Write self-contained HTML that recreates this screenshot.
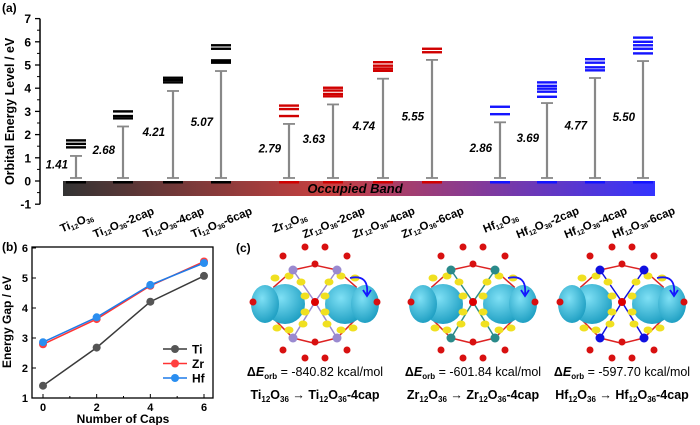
<!DOCTYPE html>
<html><head><meta charset="utf-8"><style>
body{margin:0;background:#fff;width:700px;height:425px;overflow:hidden}
svg{font-family:"Liberation Sans",sans-serif;display:block}
</style></head><body>
<svg id="s" width="700" height="425" viewBox="0 0 700 425">
<defs>
<linearGradient id="band" x1="0" x2="1" y1="0" y2="0">
<stop offset="0" stop-color="#333"/><stop offset="0.45" stop-color="#c84040"/><stop offset="1" stop-color="#3434ff"/>
</linearGradient>
<radialGradient id="cy" cx="0.4" cy="0.35" r="0.7"><stop offset="0" stop-color="#7fe0f5"/><stop offset="1" stop-color="#1a9cc0"/></radialGradient>
</defs>
<g id="pa"></g>
<g id="pb"></g>
<g id="pc"></g>
</svg>
<script>
const NS="http://www.w3.org/2000/svg";
function mk(p,t,a,txt){const e=document.createElementNS(NS,t);for(const k in a)e.setAttribute(k,a[k]);if(txt!==undefined)e.textContent=txt;p.appendChild(e);return e;}

// ---------- Panel (a) data ----------
const systems=["Ti12O36","Ti12O36-2cap","Ti12O36-4cap","Ti12O36-6cap","Zr12O36","Zr12O36-2cap","Zr12O36-4cap","Zr12O36-6cap","Hf12O36","Hf12O36-2cap","Hf12O36-4cap","Hf12O36-6cap"];
const gaps=[1.41,2.68,4.21,5.07,2.79,3.63,4.74,5.55,2.86,3.69,4.77,5.50];
const levelsTi=[[1.45,1.6,1.75],[2.7,2.8,3.0],[4.25,4.35,4.45],[5.1,5.2,5.7,5.85]];
const levelsZr=[[2.8,3.1,3.25],[3.65,3.75,3.9,4.02],[4.75,4.85,4.97,5.12],[5.55,5.7]];
const levelsHf=[[2.88,3.2],[3.63,3.85,3.98,4.1,4.25],[4.77,4.9,5.1,5.25],[5.5,5.7,5.85,6.0,6.18]];
const aTicks=[-1,0,1,2,3,4,5,6,7];
const colPos=[76,123,173,221,289,333,383,432,500,547,595,643];
const colColors=["#000","#000","#000","#000","#d00000","#d00000","#d00000","#d00000","#1414ff","#1414ff","#1414ff","#1414ff"];
const allLevels=levelsTi.concat(levelsZr,levelsHf);

const pa=document.getElementById('pa');
const ay=v=>181-v*23.2;
mk(pa,'text',{x:2,y:12,'font-size':12,'font-weight':'bold',},'(a)');
let axl=mk(pa,'line',{x1:40,x2:40,y1:ay(7),y2:ay(-1),stroke:'#000','stroke-width':1.5});

aTicks.forEach(t=>{
  mk(pa,'line',{x1:40,x2:35,y1:ay(t),y2:ay(t),stroke:'#000','stroke-width':1.3});
  if(t<7)mk(pa,'line',{x1:40,x2:37,y1:ay(t+0.5),y2:ay(t+0.5),stroke:'#000','stroke-width':1});
  const tl=mk(pa,'text',{x:31,y:ay(t)+4.5,'text-anchor':'end','font-size':12,'font-weight':'bold'},String(t));
  
});
let yt=mk(pa,'text',{transform:'translate(14,'+ay(3)+') rotate(-90)','text-anchor':'middle','font-size':12.5,'font-weight':'bold'},'Orbital Energy Level / eV');

let band=mk(pa,'rect',{x:63,y:ay(0),width:592,height:15,fill:'url(#band)'});

let bt=mk(pa,'text',{x:355,y:ay(0)+12,'text-anchor':'middle','font-size':13,'font-weight':'bold','font-style':'italic'},'Occupied Band');


systems.forEach((name,i)=>{
  const x=colPos[i],c=colColors[i],g=gaps[i];
  const base=mk(pa,'rect',{x:x-10,y:ay(0),width:20,height:2.5,fill:c});
  
  const y0=ay(0.13),y1=ay(g-0.33);
  const bar=mk(pa,'line',{x1:x,x2:x,y1:y0,y2:y1,stroke:'#888','stroke-width':2.2});
  
  mk(pa,'line',{x1:x-6,x2:x+6,y1:y0,y2:y0,stroke:'#888','stroke-width':1.8});
  mk(pa,'line',{x1:x-6,x2:x+6,y1:y1,y2:y1,stroke:'#888','stroke-width':1.8});
  allLevels[i].forEach(v=>{
    const l=mk(pa,'rect',{x:x-10,y:ay(v)-1.2,width:20,height:2.4,fill:c});
    
  });
  const gl=mk(pa,'text',{x:x-8,y:ay(g/2)+4,'text-anchor':'end','font-size':11.5,'font-weight':'bold','font-style':'italic'},g.toFixed(2));
  
  const m=name.match(/^([A-Z][a-z])12O36(.*)$/);
  const t=mk(pa,'text',{transform:'translate('+(x+2)+',226) rotate(-22)','text-anchor':'middle','font-size':11.5,'font-weight':'bold'});
  
  mk(t,'tspan',{},m[1]);mk(t,'tspan',{'font-size':7,dy:2},'12');mk(t,'tspan',{dy:-2},'O');mk(t,'tspan',{'font-size':7,dy:2},'36');mk(t,'tspan',{dy:-2},m[2]);
});

// ---------- Panel (b) data ----------
const caps=[0,2,4,6];
const gapTi=[1.41,2.68,4.21,5.07];
const gapZr=[2.79,3.63,4.74,5.55];
const gapHf=[2.86,3.69,4.77,5.50];
const bTicksY=[1,2,3,4,5,6];
const bTicksX=[0,2,4,6];
const pb=document.getElementById('pb');
const bx=v=>43+v*(204-43)/6, by=v=>398-(v-1)*30;
mk(pb,'text',{x:2,y:251,'font-size':12,'font-weight':'bold',},'(b)');
let fr=mk(pb,'rect',{x:32,y:247,width:181,height:151,fill:'none',stroke:'#000','stroke-width':1.3});

bTicksY.forEach(t=>{mk(pb,'line',{x1:32,x2:36,y1:by(t),y2:by(t),stroke:'#000'});
  const l=mk(pb,'text',{x:28,y:by(t)+4,'text-anchor':'end','font-size':11,'font-weight':'bold'},String(t));
  });
bTicksX.forEach(t=>{mk(pb,'line',{x1:bx(t),x2:bx(t),y1:398,y2:394,stroke:'#000'});
  if(t<6)mk(pb,'line',{x1:bx(t+1),x2:bx(t+1),y1:398,y2:396,stroke:'#000'});
  const l=mk(pb,'text',{x:bx(t),y:411,'text-anchor':'middle','font-size':11,'font-weight':'bold'},String(t));
  });
let xt=mk(pb,'text',{x:123,y:423,'text-anchor':'middle','font-size':12,'font-weight':'bold'},'Number of Caps');

let yt2=mk(pb,'text',{transform:'translate(11,322) rotate(-90)','text-anchor':'middle','font-size':12,'font-weight':'bold'},'Energy Gap / eV');

const series=[["Ti",gapTi,"#3a3a3a","#555"],["Zr",gapZr,"#ff3333","#ff4040"],["Hf",gapHf,"#1e7be8","#2a8ef0"]];
series.forEach(([n,vals,lc,mc],k)=>{
  const pts=caps.map((c,i)=>bx(c)+','+by(vals[i])).join(' ');
  const pl=mk(pb,'polyline',{points:pts,fill:'none',stroke:lc,'stroke-width':1.5});
  
  caps.forEach((c,i)=>{const p=mk(pb,'circle',{cx:bx(c),cy:by(vals[i]),r:4,fill:mc});
    });
  const ly=349+k*14.5;
  const le=mk(pb,'g',{});
  
  mk(le,'line',{x1:163,x2:187,y1:ly,y2:ly,stroke:lc,'stroke-width':1.5});
  mk(le,'circle',{cx:175,cy:ly,r:4,fill:mc});
  mk(le,'text',{x:192,y:ly+4.5,'font-size':12,'font-weight':'bold'},n);
});

// ---------- Panel (c) ----------
const pc=document.getElementById('pc');
mk(pc,'text',{x:236,y:252,'font-size':12,'font-weight':'bold',},'(c)');
const mols=[["Ti","#9a8ad0","-840.82",315],["Zr","#2a8a8a","-601.84",473],["Hf","#1010e0","-597.70",622]];
mols.forEach(([el,mc,e,cx])=>{
  const g=mk(pc,'g',{transform:'translate('+cx+',302)'});
  
  const metals=[[-22,-32],[22,-32],[-22,36],[22,36],[0,0]];
  const oxy=[[-32,-46],[32,-46],[-32,48],[32,48],[0,-38],[0,40],[-62,0],[62,0],[-10,-55],[10,-55],[-10,56],[10,56]];
  metals.slice(0,4).forEach(m=>{mk(g,'line',{x1:m[0],y1:m[1],x2:0,y2:0,stroke:mc,'stroke-width':1.5});mk(g,'line',{x1:m[0],y1:m[1],x2:0,y2:m[1]*1.15,stroke:'#d22','stroke-width':1.5});mk(g,'line',{x1:m[0],y1:m[1],x2:m[0]*1.9,y2:m[1]*0.45,stroke:'#d22','stroke-width':1.5});});
  [-1,1].forEach(s=>{
    mk(g,'ellipse',{cx:s*30,cy:2,rx:20,ry:20,fill:'url(#cy)'});
    mk(g,'ellipse',{cx:s*50,cy:2,rx:14,ry:19,fill:'url(#cy)'});
    [[14,-20],[12,22],[40,-24],[38,26],[26,-26],[26,28],[10,-6],[10,10]].forEach(p=>mk(g,'ellipse',{cx:s*p[0],cy:p[1],rx:4.5,ry:3.5,fill:'#f0e020'}));
  });
  metals.forEach((m,i)=>mk(g,'circle',{cx:m[0],cy:m[1],r:i==4?4:4.5,fill:i==4?'#d00':mc}));
  oxy.forEach(o=>mk(g,'circle',{cx:o[0],cy:o[1],r:3.5,fill:'#d81010'}));
  mk(g,'path',{d:'M35,-24 Q54,-28 52,-8',fill:'none',stroke:'#1414ff','stroke-width':1.8});
  mk(g,'path',{d:'M48,-12 L52,-6 L56,-12',fill:'none',stroke:'#1414ff','stroke-width':1.8});
  const t1=mk(pc,'text',{x:cx,y:376,'text-anchor':'middle','font-size':12.5});
  
  mk(t1,'tspan',{'font-weight':'bold'},'Δ');mk(t1,'tspan',{'font-weight':'bold','font-style':'italic'},'E');
  mk(t1,'tspan',{'font-weight':'bold','font-size':8,dy:3},'orb');mk(t1,'tspan',{dy:-3},' = '+e+' kcal/mol');
  const t2=mk(pc,'text',{x:cx,y:399,'text-anchor':'middle','font-size':12.5,'font-weight':'bold'});
  
  mk(t2,'tspan',{},el);mk(t2,'tspan',{'font-size':8,dy:3},'12');mk(t2,'tspan',{dy:-3},'O');mk(t2,'tspan',{'font-size':8,dy:3},'36');
  mk(t2,'tspan',{dy:-3,'font-weight':'normal'},' → ');
  mk(t2,'tspan',{},el);mk(t2,'tspan',{'font-size':8,dy:3},'12');mk(t2,'tspan',{dy:-3},'O');mk(t2,'tspan',{'font-size':8,dy:3},'36');mk(t2,'tspan',{dy:-3},'-4cap');
});
</script>
</body></html>
